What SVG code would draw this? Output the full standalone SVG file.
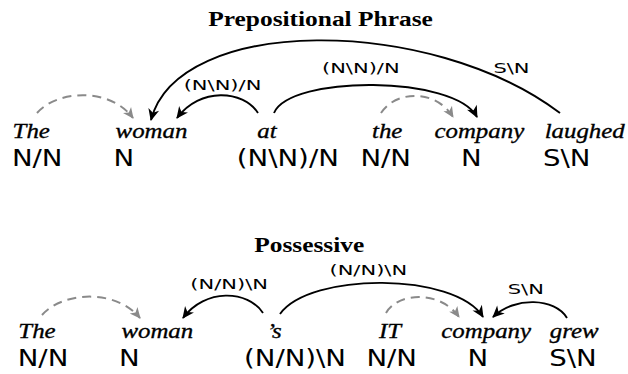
<svg xmlns="http://www.w3.org/2000/svg" width="628" height="374" viewBox="0 0 628 374">
<defs>
<style>
.title{font-family:"Liberation Serif","Times New Roman",serif;font-weight:bold;font-size:20px;fill:#000;text-anchor:middle}
.word{font-family:"Liberation Serif","Times New Roman",serif;font-style:italic;font-size:22px;fill:#000;stroke:#000;stroke-width:0.35;text-anchor:middle}
.cat{font-family:"DejaVu Sans",sans-serif;font-size:23px;fill:#000;text-anchor:middle}
.lab{font-family:"DejaVu Sans",sans-serif;font-size:14.5px;fill:#000;text-anchor:middle}
.dep{fill:none;stroke:#000;stroke-width:1.9;marker-end:url(#ab)}
.det{fill:none;stroke:#8a8a8a;stroke-width:2;stroke-dasharray:9 6;marker-end:url(#ag)}
</style>
<marker id="ab" markerUnits="userSpaceOnUse" markerWidth="14" markerHeight="12" viewBox="-12 -6 14 12" refX="0" refY="0" orient="auto" overflow="visible"><path d="M1,0 L-11,-5.5 L-7.5,0 L-11,5.5 Z" fill="#000"/></marker>
<marker id="ag" markerUnits="userSpaceOnUse" markerWidth="14" markerHeight="12" viewBox="-12 -6 14 12" refX="0" refY="0" orient="auto" overflow="visible"><path d="M1,0 L-10,-5 L-7,0 L-10,5 Z" fill="#8a8a8a"/></marker>
</defs>

<g id="title-pp"><text class="title" transform="translate(320.5,25.7) scale(1.27,1)">Prepositional Phrase</text></g>
<g id="title-pos"><text class="title" transform="translate(309.2,251.7) scale(1.27,1)">Possessive</text></g>

<g id="pp-the"><text class="word" transform="translate(31.2,137.5) scale(1.13,1)">The</text><text class="cat" transform="translate(37.2,166) scale(1.2,1)">N/N</text></g>
<g id="pp-woman"><text class="word" transform="translate(151.5,137.5) scale(1.13,1)">woman</text><text class="cat" transform="translate(123.8,166) scale(1.2,1)">N</text></g>
<g id="pp-at"><text class="word" transform="translate(267,137.5) scale(1.13,1)">at</text><text class="cat" transform="translate(287.8,166) scale(1.2,1)">(N\N)/N</text></g>
<g id="pp-the2"><text class="word" transform="translate(387.2,137.5) scale(1.13,1)">the</text><text class="cat" transform="translate(385.7,166) scale(1.2,1)">N/N</text></g>
<g id="pp-company"><text class="word" transform="translate(479.3,137.5) scale(1.13,1)">company</text><text class="cat" transform="translate(471.3,166) scale(1.2,1)">N</text></g>
<g id="pp-laughed"><text class="word" transform="translate(584.7,137.5) scale(1.13,1)">laughed</text><text class="cat" transform="translate(566.7,166) scale(1.2,1)">S\N</text></g>

<g id="pos-the"><text class="word" transform="translate(37,338) scale(1.13,1)">The</text><text class="cat" transform="translate(43,366) scale(1.2,1)">N/N</text></g>
<g id="pos-woman"><text class="word" transform="translate(157.3,338) scale(1.13,1)">woman</text><text class="cat" transform="translate(129.2,366) scale(1.2,1)">N</text></g>
<g id="pos-s"><text class="word" transform="translate(274.2,338) scale(1.13,1)">’s</text><text class="cat" transform="translate(295,366) scale(1.2,1)">(N/N)\N</text></g>
<g id="pos-it"><text class="word" transform="translate(390,338) scale(1.13,1)">IT</text><text class="cat" transform="translate(391.7,366) scale(1.2,1)">N/N</text></g>
<g id="pos-company"><text class="word" transform="translate(486.2,338) scale(1.13,1)">company</text><text class="cat" transform="translate(477.8,366) scale(1.2,1)">N</text></g>
<g id="pos-grew"><text class="word" transform="translate(574.2,338) scale(1.13,1)">grew</text><text class="cat" transform="translate(573,366) scale(1.2,1)">S\N</text></g>

<g id="connectors">
<path class="det" d="M37,113 C57,90 110,87 133,118"/>
<path class="dep" d="M258,113 C243,90 200,87 177,118"/>
<path class="dep" d="M560,113 C430,15 178,15 151,120"/>
<path class="dep" d="M274,113 C290,75 455,75 477,117"/>
<path class="det" d="M381,113 C395,91 435,88 453,117"/>
<text class="lab" transform="translate(222.5,90) scale(1.45,1)">(N\N)/N</text>
<text class="lab" transform="translate(360.8,73.3) scale(1.45,1)">(N\N)/N</text>
<text class="lab" transform="translate(511.5,73.3) scale(1.45,1)">S\N</text>

<path class="det" d="M42,315 C62,292 115,288 140,318"/>
<path class="dep" d="M263,313 C248,290 205,288 183,318"/>
<path class="dep" d="M280,314 C310,272 455,272 483,317"/>
<path class="det" d="M386,313 C398,292 440,290 459,317"/>
<path class="dep" d="M567,318 C555,298 515,296 493,317"/>
<text class="lab" transform="translate(229.2,289.3) scale(1.45,1)">(N/N)\N</text>
<text class="lab" transform="translate(368.3,275) scale(1.45,1)">(N/N)\N</text>
<text class="lab" transform="translate(525.8,293.5) scale(1.45,1)">S\N</text>
</g>
</svg>
